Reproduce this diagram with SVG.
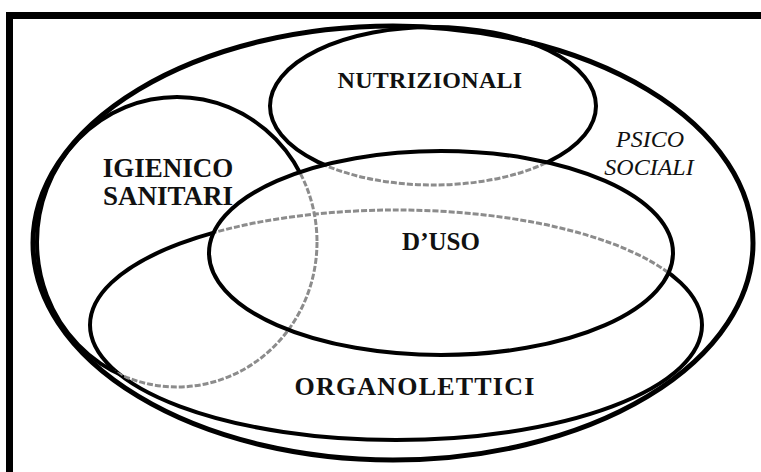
<svg xmlns="http://www.w3.org/2000/svg" width="761" height="472" viewBox="0 0 761 472">
<style>
.solid{fill:none;stroke:#000;stroke-width:4}
.dash{fill:none;stroke:#8c8c8c;stroke-width:3;stroke-dasharray:6 2}
.lbl{font-family:"Liberation Serif","Times New Roman",serif;font-weight:bold;fill:#111;text-anchor:middle}
.ital{font-family:"Liberation Serif","Times New Roman",serif;font-style:italic;fill:#111;text-anchor:middle}
</style>
<defs>
<clipPath id="inD"><ellipse cx="441" cy="253" rx="232" ry="102"/></clipPath>
<mask id="outD"><rect x="0" y="0" width="761" height="472" fill="#fff"/><ellipse cx="441" cy="253" rx="232" ry="102" fill="#000"/></mask>
<clipPath id="inDO"><ellipse cx="441" cy="253" rx="232" ry="102"/><ellipse cx="396" cy="325" rx="306" ry="115"/></clipPath>
<mask id="outDO"><rect x="0" y="0" width="761" height="472" fill="#fff"/><ellipse cx="441" cy="253" rx="232" ry="102" fill="#000"/><ellipse cx="396" cy="325" rx="306" ry="115" fill="#000"/></mask>
</defs>
<rect x="0" y="0" width="761" height="472" fill="#fff"/>
<rect x="9.5" y="15.5" width="800" height="500" fill="none" stroke="#000" stroke-width="7"/>
<g id="psico-sociali">
<ellipse class="solid" cx="393" cy="243" rx="360" ry="217" style="stroke-width:5"/>
<text class="ital" x="650" y="147" font-size="24">PSICO</text>
<text class="ital" x="649" y="175" font-size="24">SOCIALI</text>
</g>
<g id="nutrizionali">
<ellipse class="solid" cx="433" cy="106" rx="163" ry="79" mask="url(#outD)"/>
<ellipse class="dash" cx="433" cy="106" rx="163" ry="79" clip-path="url(#inD)"/>
<text class="lbl" x="430" y="88" font-size="24" letter-spacing="0.3">NUTRIZIONALI</text>
</g>
<g id="organolettici">
<ellipse class="solid" cx="396" cy="325" rx="306" ry="115" mask="url(#outD)"/>
<ellipse class="dash" cx="396" cy="325" rx="306" ry="115" clip-path="url(#inD)"/>
<text class="lbl" x="415" y="395" font-size="26" letter-spacing="1.2">ORGANOLETTICI</text>
</g>
<g id="igienico-sanitari">
<ellipse class="solid" cx="177" cy="242" rx="140" ry="145" mask="url(#outDO)"/>
<ellipse class="dash" cx="177" cy="242" rx="140" ry="145" clip-path="url(#inDO)"/>
<text class="lbl" x="168" y="177" font-size="27">IGIENICO</text>
<text class="lbl" x="168" y="205" font-size="27">SANITARI</text>
</g>
<g id="duso">
<ellipse class="solid" cx="441" cy="253" rx="232" ry="102"/>
<text class="lbl" x="441" y="250" font-size="25">D’USO</text>
</g>
<g id="connectors"/>
</svg>
